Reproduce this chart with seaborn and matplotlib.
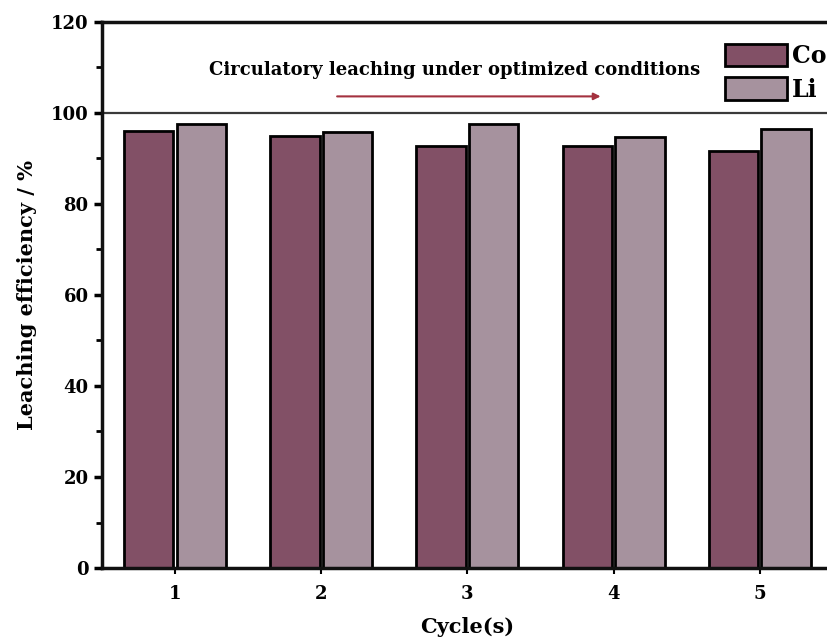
import numpy as np
import pandas as pd
import matplotlib
matplotlib.use("Agg")
import matplotlib.pyplot as plt
from matplotlib.ticker import MultipleLocator
import seaborn as sns

cycles = ["1", "2", "3", "4", "5"]
co_eff = [96.0, 95.0, 92.6, 92.6, 91.5]
li_eff = [97.6, 95.8, 97.5, 94.6, 96.4]
metals = ["Co", "Li"]
colors = ["#8a4865", "#a98f9f"]

df = pd.DataFrame({
    "Cycle": cycles * 2,
    "Metal": [metals[0]] * len(cycles) + [metals[1]] * len(cycles),
    "Eff": co_eff + li_eff,
})

sns.set_theme(style="ticks")
plt.rcParams["font.family"] = ["DejaVu Serif"]
plt.rcParams["font.weight"] = "bold"
plt.rcParams["text.color"] = "black"
plt.rcParams["xtick.color"] = "black"
plt.rcParams["ytick.color"] = "black"
plt.rcParams["axes.labelcolor"] = "black"

fig = plt.figure(figsize=(8.28, 6.39), dpi=100)
ax = fig.add_axes([0.123, 0.111, 0.883, 0.855])

sns.barplot(data=df, x="Cycle", y="Eff", hue="Metal", palette=colors,
            width=0.72, gap=0.06, edgecolor="black", linewidth=2, ax=ax)

ax.set_xlim(-0.5, 4.5)
ax.set_ylim(0, 120)
ax.yaxis.set_major_locator(MultipleLocator(20))
ax.yaxis.set_minor_locator(MultipleLocator(10))
ax.axhline(100, color="#3a3a3a", lw=1.6, zorder=0)

for s in ["left", "bottom", "top"]:
    ax.spines[s].set_linewidth(2.5)
    ax.spines[s].set_color("#111111")
ax.spines["right"].set_visible(False)
ax.tick_params(axis="y", which="major", length=6, width=2.5, labelsize=13)
ax.tick_params(axis="y", which="minor", length=4, width=2)
ax.tick_params(axis="x", length=4, width=1.5, labelsize=13, pad=8)

ax.set_xlabel("Cycle(s)", fontsize=15, fontweight="bold", labelpad=10)
ax.set_ylabel("Leaching efficiency / %", fontsize=15, fontweight="bold", labelpad=10)

ax.text(1.91, 109.5, "Circulatory leaching under optimized conditions",
        ha="center", va="center", fontsize=13, fontweight="bold", color="black")
ax.annotate("", xy=(2.93, 103.6), xytext=(1.09, 103.6),
            arrowprops=dict(arrowstyle="-|>", color="#a4323f", lw=1.5,
                            mutation_scale=10))

leg = ax.legend(loc="upper left", bbox_to_anchor=(0.853, 0.96), frameon=False,
                fontsize=17, handlelength=2.6, handleheight=1.1,
                handletextpad=0.2, labelspacing=0.4, borderpad=0.0,
                borderaxespad=0.0)
for t in leg.get_texts():
    t.set_fontweight("bold")

fig.savefig("out.png", dpi=100)
